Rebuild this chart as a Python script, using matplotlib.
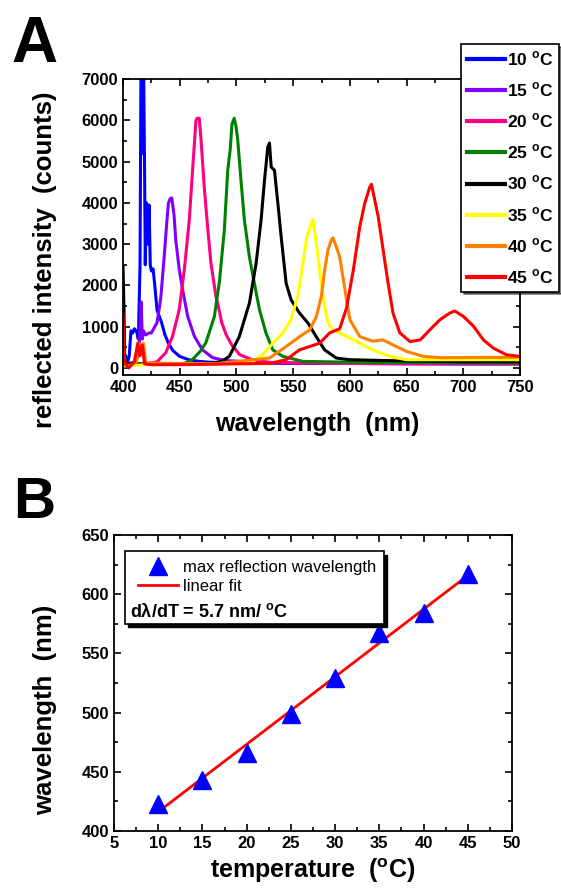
import matplotlib
matplotlib.use("Agg")
import matplotlib.pyplot as plt
import numpy as np
from matplotlib.patches import Rectangle

plt.rcParams['font.family'] = ['Liberation Sans', 'DejaVu Sans']
plt.rcParams['font.weight'] = 'bold'
plt.rcParams['mathtext.fontset'] = 'custom'
plt.rcParams['mathtext.rm'] = 'Liberation Sans'
plt.rcParams['mathtext.bf'] = 'Liberation Sans:bold'

# spectra (wavelength nm, reflected intensity counts)
wl_10 = [400, 401, 402.5, 404, 405.5, 407, 408.5, 410, 412, 413.5, 415, 415.8, 416.5, 417.3, 418.2, 419,
         419.6, 420.5, 421.3, 422, 423, 424, 425, 426.5, 428, 430, 432, 434, 437, 440, 444, 450, 458, 467,
         476, 490, 510, 550, 600, 650, 700, 750]
int_10 = [200, 350, 280, 120, 300, 900, 850, 950, 880, 700, 2500, 7200, 7200, 5200, 7200, 4800,
          2500, 4000, 3900, 3000, 3950, 2500, 2350, 2400, 2000, 1400, 1250, 1100, 800, 600, 420, 280, 200, 160,
          140, 130, 120, 110, 110, 105, 100, 100]

wl_15 = [400, 405, 410, 414, 416, 417, 418, 420, 423, 425, 430, 433.3, 436.3, 438.5, 440, 441.5, 443, 445,
         446.5, 449.5, 452.5, 457, 463, 470, 479, 490, 510, 550, 600, 650, 700, 750]
int_15 = [100, 100, 150, 300, 1600, 700, 900, 800, 850, 850, 1100, 1700, 2700, 3500, 3990, 4100, 4120, 3700,
          3100, 2400, 1900, 1250, 760, 440, 250, 180, 150, 120, 110, 100, 100, 100]

wl_20 = [400, 410, 420, 430, 437.7, 443.6, 449.5, 454, 458.4, 461.3, 464.3, 465.5, 467.2, 468.7, 471.6, 474.6,
         477.5, 481.9, 484, 487, 491, 496, 503, 514, 530, 600, 750]
int_20 = [80, 80, 100, 150, 370, 760, 1410, 2370, 3580, 4790, 6000, 6050, 6050, 5560, 4380, 3400,
          2540, 1730, 1500, 1100, 800, 550, 320, 200, 130, 110, 100]

wl_25 = [400, 420, 450, 455, 461, 468, 473, 480.5, 485, 489.3, 492.3, 494.5, 496, 498, 499.6, 501, 504,
         507, 511.4, 515.8, 520.3, 526, 532, 541, 558.6, 600, 750]
int_25 = [80, 90, 100, 120, 200, 400, 610, 1245, 2100, 3340, 4790, 5300, 5900, 6050, 5850, 5560, 4540,
          3580, 2690, 2050, 1410, 850, 440, 280, 160, 140, 120]

wl_30 = [400, 400.8, 401.5, 404, 450, 480, 487, 493.7, 502.5, 511.4, 517.3, 521.7, 524.7, 527.6, 529.1,
         530.6, 533.5, 536.5, 539.4, 543.8, 548.2, 555.6, 563, 570.3, 577.7, 588, 600, 650, 700, 750]
int_30 = [2450, 1500, 200, 100, 100, 120, 160, 280, 760, 1570, 2530, 3580, 4540, 5350, 5450,
          4870, 4790, 3990, 3180, 2050, 1650, 1330, 1090, 760, 440, 240, 200, 170, 150, 150]

wl_35 = [400, 420, 480, 514, 523, 532, 541, 548, 554, 558.6, 562, 566, 567.4, 570.4, 573.3, 576.3, 580.7,
         585, 591, 600, 608.7, 620, 635, 650, 700, 750]
int_35 = [50, 80, 100, 150, 320, 600, 850, 1170, 1730, 2530, 3180, 3500, 3600, 3020, 2370, 1730, 1090,
          925, 850, 725, 600, 440, 280, 200, 200, 200]

wl_40 = [400, 405, 412, 414, 416, 418, 420, 480, 529, 543.8, 555.6, 564.5, 570.4, 574.8, 577.7, 580.7,
         583.6, 585.1, 588, 591, 593.9, 597, 600, 608.7, 620, 629, 638, 650, 665, 680, 750]
int_40 = [100, 50, 150, 600, 550, 600, 120, 100, 240, 520, 760, 920, 1245, 1730, 2370, 2860,
          3100, 3150, 2940, 2690, 2200, 1650, 1170, 760, 650, 680, 560, 400, 280, 250, 260]

wl_45 = [400, 400.7, 402, 405, 410, 413, 415, 417, 419, 425, 450, 500, 529, 543.8, 555.6, 564.5, 573.3,
         582.2, 591, 597, 603, 608.7, 613, 617.5, 619, 622, 625, 629.3, 633.7, 638, 644, 653, 662, 670.5,
         679.4, 688, 692.6, 700, 709, 717.7, 726.5, 738, 750]
int_45 = [1300, 400, 100, 0, 150, 600, 300, 550, 100, 80, 80, 100, 110, 200, 440, 520, 600,
          850, 950, 1450, 2370, 3420, 3980, 4380, 4450, 4060, 3660, 2860, 2050, 1330, 850, 640, 680, 925,
          1170, 1330, 1380, 1250, 1010, 680, 480, 320, 280]

spectra = [(wl_10, int_10), (wl_15, int_15), (wl_20, int_20), (wl_25, int_25),
           (wl_30, int_30), (wl_35, int_35), (wl_40, int_40), (wl_45, int_45)]
spec_labels = ['10', '15', '20', '25', '30', '35', '40', '45']
spec_colors = ['#0000ff', '#8000ff', '#ff0080', '#008000', '#000000', '#ffff00', '#ff8000', '#ff0000']

# panel B: peak wavelength vs temperature
temperature = [10, 15, 20, 25, 30, 35, 40, 45]
peak_wl = [423, 443, 466, 499, 529, 567, 584, 617]

fig = plt.figure(figsize=(5.61, 8.88), dpi=100)

# ---- panel A
axA = fig.add_axes([0.2193, 0.5777, 0.7077, 0.3333])
for (wl, inten), lab, col in zip(spectra, spec_labels, spec_colors):
    axA.plot(wl, inten, color=col, lw=2.2, label=lab + r' $^{\mathbf{o}}$C')
axA.set_xlim(400, 750)
axA.set_ylim(-170, 7000)
axA.set_xticks(np.arange(400, 751, 50))
axA.set_xticks(np.arange(400, 751, 25), minor=True)
axA.set_yticks(np.arange(0, 7001, 1000))
axA.set_yticks(np.arange(0, 7001, 500), minor=True)
axA.set_xlabel('wavelength  (nm)', fontsize=18, fontweight='bold')
axA.set_ylabel('reflected intensity  (counts)', fontsize=18.5, fontweight='bold')
axA.xaxis.set_label_coords(0.49, -0.125)
axA.yaxis.set_label_coords(-0.166, 0.39)

legA = fig.legend(loc='upper right', bbox_to_anchor=(559 / 561, 1 - 44 / 888), fontsize=12.5,
                  handlelength=2.2, handletextpad=0.15, labelspacing=0.72, borderpad=0.3,
                  borderaxespad=0, fancybox=False, framealpha=1, edgecolor='black',
                  shadow={'color': 'black'})
legA.get_frame().set_linewidth(1.2)
for h in legA.legend_handles:
    h.set_linewidth(3)

# ---- panel B
axB = fig.add_axes([0.2032, 0.0642, 0.7094, 0.3333])
axB.plot(temperature, peak_wl, linestyle='none', marker='^', color='#0000ff', markersize=12.5,
         label='max reflection wavelength', zorder=3)
fit = np.polyfit(temperature, peak_wl, 1)
axB.plot(temperature, np.polyval(fit, temperature), color='#ff0000', lw=2, label='linear fit', zorder=2)
axB.set_xlim(5, 50)
axB.set_ylim(400, 650)
axB.set_xticks(np.arange(5, 51, 5))
axB.set_xticks(np.arange(5, 51, 2.5), minor=True)
axB.set_yticks(np.arange(400, 651, 50))
axB.set_yticks(np.arange(400, 651, 25), minor=True)
axB.set_xlabel(r'temperature  ($^{\mathbf{o}}$C)', fontsize=18, fontweight='bold')
axB.set_ylabel('wavelength  (nm)', fontsize=18.5, fontweight='bold')
axB.xaxis.set_label_coords(0.5, -0.085)
axB.yaxis.set_label_coords(-0.143, 0.41)

# legend box with the slope note
axB.add_patch(Rectangle((0.036, 0.688), 0.65, 0.245, transform=axB.transAxes, fc='black', ec='black',
                        zorder=4))
axB.add_patch(Rectangle((0.028, 0.70), 0.65, 0.245, transform=axB.transAxes, fc='white', ec='black',
                        lw=1.2, zorder=5))
legB = axB.legend(loc='upper left', bbox_to_anchor=(0.03, 0.955), frameon=False,
                  handlelength=2.4, handletextpad=0.3, labelspacing=0.25, borderpad=0.2,
                  prop={'weight': 'normal', 'size': 12})
legB.set_zorder(6)
axB.text(0.04, 0.74, 'dλ/dT = 5.7 nm/ ' + r'$^{\mathrm{o}}$C', transform=axB.transAxes, fontsize=13,
         fontweight='bold', va='center', ha='left', zorder=7)

for ax in (axA, axB):
    ax.tick_params(which='both', direction='in', top=True, right=True, labelsize=12, width=1.2)
    ax.tick_params(which='major', length=5)
    ax.tick_params(which='minor', length=3)
    for s in ax.spines.values():
        s.set_linewidth(1.3)
    for t in ax.get_xticklabels() + ax.get_yticklabels():
        t.set_fontweight('bold')

fig.text(11 / 561, 1 - 62 / 888, 'A', fontsize=46, fontweight='heavy', va='baseline', ha='left')
fig.text(13 / 561, 1 - 518 / 888, 'B', fontsize=42, fontweight='heavy', va='baseline', ha='left')

fig.savefig('out.png', dpi=100)
